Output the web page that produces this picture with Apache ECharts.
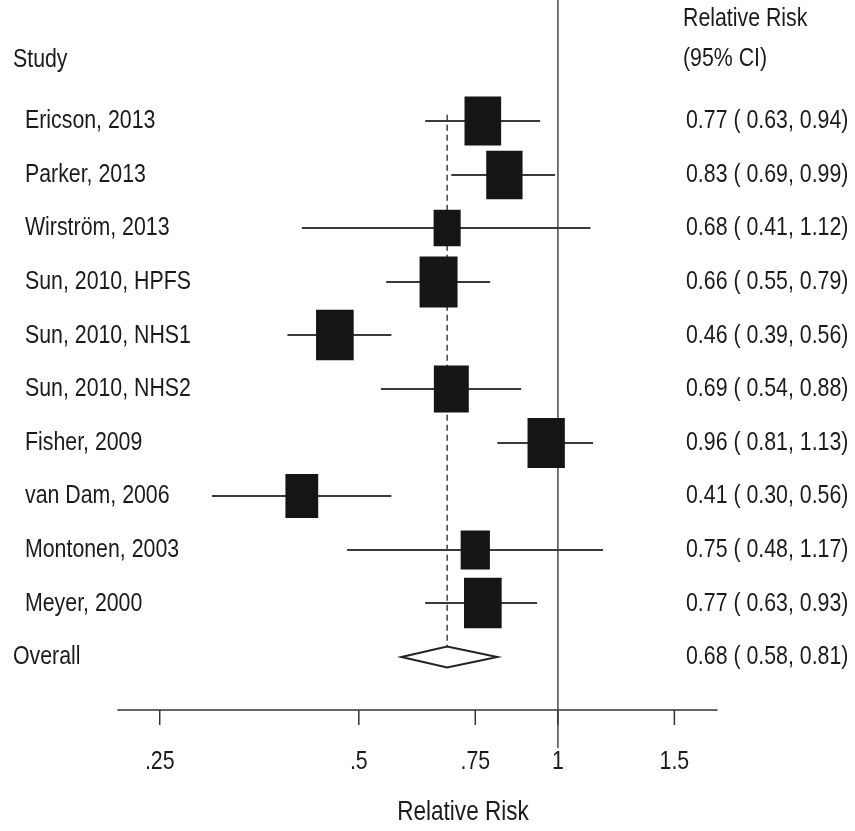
<!DOCTYPE html>
<html>
<head>
<meta charset="utf-8">
<script src="https://cdn.jsdelivr.net/npm/echarts@6/dist/echarts.min.js"></script>
<style>
  html, body { margin: 0; padding: 0; background: #fff; }
  #chart { width: 855px; height: 831px; }
</style>
</head>
<body>
<div id="chart"></div>
<script>
// Study-level relative risks with 95% confidence intervals
const studies = [
  'Ericson, 2013', 'Parker, 2013', 'Wirström, 2013', 'Sun, 2010, HPFS',
  'Sun, 2010, NHS1', 'Sun, 2010, NHS2', 'Fisher, 2009', 'van Dam, 2006',
  'Montonen, 2003', 'Meyer, 2000'
];
const relRisk = [0.77, 0.83, 0.68, 0.66, 0.46, 0.69, 0.96, 0.41, 0.75, 0.77];
const ciLow   = [0.63, 0.69, 0.41, 0.55, 0.39, 0.54, 0.81, 0.30, 0.48, 0.63];
const ciHigh  = [0.94, 0.99, 1.12, 0.79, 0.56, 0.88, 1.13, 0.56, 1.17, 0.93];
// Study weights (%), used for the size of each box
const weights = [11.0, 10.8, 6.0, 11.8, 11.6, 10.0, 11.4, 8.8, 7.0, 11.6];
// Pooled estimate: relative risk, lower, upper
const overall = [0.68, 0.58, 0.81];
const overallLabel = 'Overall';
// Axis ticks
const tickValues = [0.25, 0.5, 0.75, 1, 1.5];
const tickLabels = ['.25', '.5', '.75', '1', '1.5'];

const FONT = "'Liberation Sans', Arial, sans-serif";
const FONT_SIZE = 26;
const NARROW = 0.82;       // horizontal squeeze for a condensed look
const TEXT_COLOR = '#1b1b1b';
const CI_COLOR = '#3a3a3a';
const BOX_COLOR = '#151515';
const BOX_SCALE = 11.05;   // px per sqrt(weight)
const BOX_ASPECT = 1.34;   // box height / width
const Y_MIN = -2.26, Y_MAX = 10.99;
const STUDY_X = 25, HEADER_X = 13, CI_TEXT_X = 686;

const overallRow = studies.length;
const fmt = v => v.toFixed(2);
const ciText = (e, l, h) => fmt(e) + ' ( ' + fmt(l) + ', ' + fmt(h) + ')';

function label(x, y, str, align, size) {
  return {
    type: 'text', x: x, y: y, scaleX: NARROW,
    style: {
      text: str, fill: TEXT_COLOR, fontSize: size || FONT_SIZE, fontFamily: FONT,
      align: align || 'left', verticalAlign: 'middle'
    }
  };
}

const studyData = studies.map((s, i) => [relRisk[i], i, ciLow[i], ciHigh[i], weights[i]]);

const chart = echarts.init(document.getElementById('chart'), null, { renderer: 'canvas' });

chart.setOption({
  animation: false,
  backgroundColor: '#fff',
  grid: { left: 118, right: 138, top: 0, bottom: 121 },
  xAxis: {
    type: 'log', logBase: 2, min: 0.2162, max: 1.74,
    axisLine: { show: true, onZero: false, lineStyle: { color: '#333', width: 1.5 } },
    axisTick: { show: false }, axisLabel: { show: false }, splitLine: { show: false }
  },
  yAxis: { type: 'value', inverse: true, min: Y_MIN, max: Y_MAX, show: false },
  graphic: [
    label(HEADER_X, 60, 'Study'),
    label(683, 19, 'Relative Risk'),
    label(683, 59, '(95% CI)'),
    label(463, 812, 'Relative Risk', 'center', 27.5)
  ],
  series: [
    {
      // dashed reference line at the pooled estimate
      type: 'custom', clip: false, silent: true,
      data: [[overall[0], overallRow]],
      encode: { x: 0, y: 1 },
      renderItem: function (params, api) {
        const top = api.coord([api.value(0), -0.12]);
        const bot = api.coord([api.value(0), api.value(1)]);
        return {
          type: 'line',
          shape: { x1: top[0], y1: top[1], x2: bot[0], y2: bot[1] },
          style: { stroke: '#333', lineWidth: 1.4, lineDash: [6, 4] }
        };
      }
    },
    {
      // line of no effect at 1
      type: 'custom', clip: false, silent: true,
      data: [[1]],
      encode: { x: 0 },
      renderItem: function (params, api) {
        const top = api.coord([api.value(0), Y_MIN]);
        const bot = api.coord([api.value(0), Y_MAX]);
        return {
          type: 'line',
          shape: { x1: top[0], y1: top[1], x2: bot[0], y2: bot[1] + 38 },
          style: { stroke: '#555', lineWidth: 1.6 }
        };
      }
    },
    {
      // individual studies: CI whisker, weighted box and text columns
      type: 'custom', clip: false, silent: true,
      data: studyData,
      encode: { x: 0, y: 1 },
      renderItem: function (params, api) {
        const i = params.dataIndex;
        const row = api.value(1);
        const c = api.coord([api.value(0), row]);
        const l = api.coord([api.value(2), row]);
        const h = api.coord([api.value(3), row]);
        const bw = BOX_SCALE * Math.sqrt(api.value(4));
        const bh = bw * BOX_ASPECT;
        const y = Math.round(c[1]);
        return {
          type: 'group',
          children: [
            { type: 'line', shape: { x1: l[0], y1: y, x2: h[0], y2: y },
              style: { stroke: CI_COLOR, lineWidth: 2 } },
            { type: 'rect', shape: { x: c[0] - bw / 2, y: y - bh / 2, width: bw, height: bh },
              style: { fill: BOX_COLOR } },
            label(STUDY_X, c[1], studies[i]),
            label(CI_TEXT_X, c[1], ciText(relRisk[i], ciLow[i], ciHigh[i]))
          ]
        };
      }
    },
    {
      // pooled estimate diamond
      type: 'custom', clip: false, silent: true,
      data: [[overall[0], overallRow, overall[1], overall[2]]],
      encode: { x: 0, y: 1 },
      renderItem: function (params, api) {
        const row = api.value(1);
        const c = api.coord([api.value(0), row]);
        const l = api.coord([api.value(2), row]);
        const h = api.coord([api.value(3), row]);
        const half = 10.5;
        return {
          type: 'group',
          children: [
            { type: 'polygon',
              shape: { points: [[l[0], c[1]], [c[0], c[1] - half], [h[0], c[1]], [c[0], c[1] + half]] },
              style: { fill: '#fff', stroke: '#222', lineWidth: 2 } },
            label(HEADER_X, c[1], overallLabel),
            label(CI_TEXT_X, c[1], ciText(overall[0], overall[1], overall[2]))
          ]
        };
      }
    },
    {
      // axis ticks and tick labels
      type: 'custom', clip: false, silent: true,
      data: tickValues.map(v => [v]),
      encode: { x: 0 },
      renderItem: function (params, api) {
        const p = api.coord([api.value(0), Y_MAX]);
        return {
          type: 'group',
          children: [
            { type: 'line', shape: { x1: p[0], y1: p[1], x2: p[0], y2: p[1] + 15 },
              style: { stroke: '#333', lineWidth: 1.5 } },
            label(p[0], p[1] + 52, tickLabels[params.dataIndex], 'center')
          ]
        };
      }
    }
  ]
});
</script>
</body>
</html>
